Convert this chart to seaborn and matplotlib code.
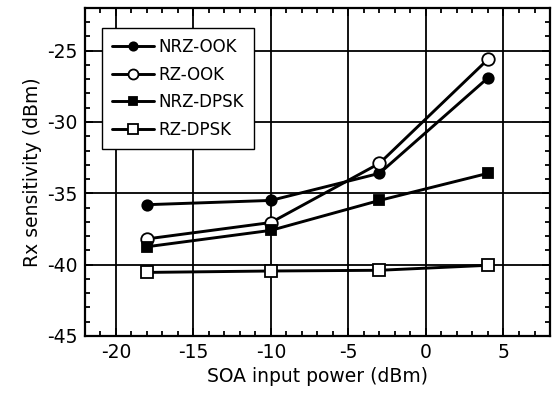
import matplotlib
matplotlib.use("Agg")
import matplotlib.pyplot as plt
import seaborn as sns
import pandas as pd
from matplotlib.ticker import MultipleLocator

x_power = [-18, -10, -3, 4]
nrz_ook = [-35.8, -35.5, -33.6, -26.9]
rz_ook = [-38.2, -37.05, -32.9, -25.6]
nrz_dpsk = [-38.75, -37.6, -35.5, -33.6]
rz_dpsk = [-40.55, -40.45, -40.4, -40.05]
labels = ["NRZ-OOK", "RZ-OOK", "NRZ-DPSK", "RZ-DPSK"]

sns.set_theme(style="white")
plt.rcParams['font.family'] = ['DejaVu Sans']
plt.rcParams['axes.unicode_minus'] = False
plt.rcParams['text.color'] = 'black'
plt.rcParams['axes.labelcolor'] = 'black'
plt.rcParams['xtick.color'] = 'black'
plt.rcParams['ytick.color'] = 'black'

fig = plt.figure(figsize=(5.55, 3.97), dpi=100)
ax = fig.add_axes([0.153, 0.154, 0.838, 0.826])

series = [nrz_ook, rz_ook, nrz_dpsk, rz_dpsk]
markers = ["o", "o", "s", "s"]
faces = ["black", "white", "black", "white"]
sizes = [7.5, 9, 7, 9]
for lab, vals, m, fc, ms in zip(labels, series, markers, faces, sizes):
    df = pd.DataFrame({"x": x_power, "y": vals})
    sns.lineplot(data=df, x="x", y="y", ax=ax, color="black", lw=2.1,
                 marker=m, markersize=ms, markerfacecolor=fc,
                 markeredgecolor="black", markeredgewidth=1.3,
                 label=lab, zorder=3)

ax.set_xlim(-22, 8)
ax.set_ylim(-45, -22)
ax.xaxis.set_major_locator(MultipleLocator(5))
ax.xaxis.set_minor_locator(MultipleLocator(1))
ax.yaxis.set_major_locator(MultipleLocator(5))
ax.yaxis.set_minor_locator(MultipleLocator(1))
ax.grid(True, which="major", color="black", lw=1.3)
ax.tick_params(which="both", direction="in", top=True, right=True,
               bottom=True, left=True, color="black", labelcolor="black")
ax.tick_params(which="major", length=6, width=1.3, labelsize=13.5, pad=5)
ax.tick_params(which="minor", length=3.5, width=1.3)
for s in ax.spines.values():
    s.set_color("black")
    s.set_linewidth(1.6)
ax.set_xlabel("SOA input power (dBm)", fontsize=13.5, labelpad=4, color="black")
ax.set_ylabel("Rx sensitivity (dBm)", fontsize=13.5, labelpad=4, color="black")

leg = ax.legend(loc="upper left", bbox_to_anchor=(0.0366, 0.939), fontsize=12,
                frameon=True, fancybox=False, edgecolor="black",
                handlelength=2.5, borderpad=0.6, labelspacing=0.58,
                handletextpad=0.3, borderaxespad=0, markerscale=0.8)
leg.get_frame().set_linewidth(1.0)
leg.get_frame().set_alpha(1)
for t in leg.get_texts():
    t.set_color("black")

fig.savefig("out.png", dpi=100)
